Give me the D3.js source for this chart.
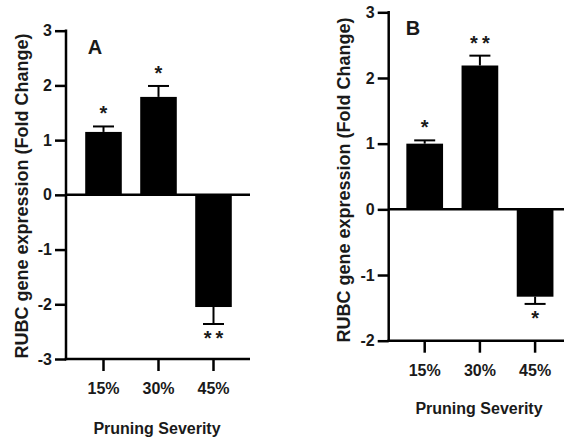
<!DOCTYPE html>
<html>
<head>
<meta charset="utf-8">
<script src="https://cdn.jsdelivr.net/npm/d3@7"></script>
<style>
  body { margin: 0; background: #fff; }
  svg { display: block; }
  text { font-family: "Liberation Sans", Arial, sans-serif; font-weight: bold; fill: #1a1a1a; }
</style>
</head>
<body>
<svg id="chart" width="564" height="438"></svg>
<script>
// ---- data ----
const categories = ["15%", "30%", "45%"];
const valuesA = [1.15, 1.79, -2.05];
const errorsA = [0.10, 0.20, 0.31];
const sigA = ["*", "*", "**"];
const valuesB = [1.00, 2.19, -1.33];
const errorsB = [0.05, 0.15, 0.11];
const sigB = ["*", "**", "*"];
const yTicksA = [-3, -2, -1, 0, 1, 2, 3];
const yTicksB = [-2, -1, 0, 1, 2, 3];
const yTitle = "RUBC gene expression (Fold Change)";
const xTitle = "Pruning Severity";

const svg = d3.select("#chart");

function panel(opts) {
  const { values, errors, sig, yTicks, yDomain, yRange, xRange, axisX, axisEnd, letter, letterPos, yTitlePos, xTitlePos, tickLabelY } = opts;
  const g = svg.append("g");
  const y = d3.scaleLinear().domain(yDomain).range(yRange);
  const x = d3.scaleBand().domain(categories).range(xRange).paddingInner(0.335).paddingOuter(0.1675);
  const data = categories.map((c, i) => ({ c, v: values[i], e: errors[i], s: sig[i] }));

  // bars
  g.selectAll("rect.bar").data(data).join("rect")
    .attr("class", "bar")
    .attr("x", d => x(d.c))
    .attr("width", x.bandwidth())
    .attr("y", d => y(Math.max(0, d.v)))
    .attr("height", d => Math.abs(y(d.v) - y(0)))
    .attr("fill", "#000");

  // error bars
  const capW = 21;
  data.forEach(d => {
    const end = d.v >= 0 ? d.v + d.e : d.v - d.e;
    const cx = x(d.c) + x.bandwidth() / 2;
    g.append("line").attr("x1", cx).attr("x2", cx).attr("y1", y(d.v)).attr("y2", y(end))
      .attr("stroke", "#000").attr("stroke-width", 2);
    g.append("line").attr("x1", cx - capW / 2).attr("x2", cx + capW / 2).attr("y1", y(end)).attr("y2", y(end))
      .attr("stroke", "#000").attr("stroke-width", 2);
    g.append("text")
      .attr("x", cx + (d.s.length > 1 ? 2 : 0))
      .attr("y", d.v >= 0 ? y(end) - 6 : y(end) + 21)
      .attr("text-anchor", "middle")
      .attr("font-size", 20)
      .attr("letter-spacing", d.s.length > 1 ? 4 : 0)
      .text(d.s);
  });

  // zero line
  g.append("line").attr("x1", axisX).attr("x2", axisEnd).attr("y1", y(0)).attr("y2", y(0))
    .attr("stroke", "#000").attr("stroke-width", 2.5);

  // y axis
  const yAxis = d3.axisLeft(y).tickValues(yTicks).tickFormat(d => String(d)).tickSize(11).tickSizeOuter(0).tickPadding(3);
  const ya = g.append("g").attr("transform", `translate(${axisX},0)`).call(yAxis);
  ya.select(".domain").attr("stroke", "#000").attr("stroke-width", 2.5)
    .attr("d", `M0,${yRange[0] + 1.25}V${yRange[1] - 1.25}`);
  ya.selectAll(".tick line").attr("stroke", "#000").attr("stroke-width", 2.5);
  ya.selectAll(".tick text").attr("font-size", 16).attr("font-family", "Liberation Sans, Arial, sans-serif")
    .attr("font-weight", "bold").attr("fill", "#1a1a1a");

  // bottom x axis
  const xAxis = d3.axisBottom(x).tickSize(12).tickSizeOuter(0).tickPadding(4);
  const xa = g.append("g").attr("transform", `translate(0,${yRange[0]})`).call(xAxis);
  xa.select(".domain").attr("stroke", "#000").attr("stroke-width", 2.5)
    .attr("d", `M${axisX - 1.25},0H${axisEnd}`);
  xa.selectAll(".tick line").attr("stroke", "#000").attr("stroke-width", 2.5);
  xa.selectAll(".tick text").attr("font-size", 16).attr("font-family", "Liberation Sans, Arial, sans-serif")
    .attr("font-weight", "bold").attr("fill", "#1a1a1a").attr("y", tickLabelY - yRange[0]).attr("dy", "0.35em");

  // panel letter
  g.append("text").attr("x", letterPos[0]).attr("y", letterPos[1]).attr("font-size", 20)
    .attr("text-anchor", "middle").attr("fill", "#111").text(letter);

  // titles
  g.append("text")
    .attr("transform", `translate(${yTitlePos[0]},${yTitlePos[1]}) rotate(-90)`)
    .attr("text-anchor", "middle").attr("dy", "0.35em").attr("font-size", 18)
    .text(yTitle);
  g.append("text")
    .attr("x", xTitlePos[0]).attr("y", xTitlePos[1])
    .attr("text-anchor", "middle").attr("dy", "0.35em").attr("font-size", 16)
    .text(xTitle);
}

panel({
  values: valuesA, errors: errorsA, sig: sigA, yTicks: yTicksA,
  yDomain: [-3, 3], yRange: [359, 30.7], xRange: [76, 241],
  axisX: 66, axisEnd: 250, letter: "A", letterPos: [95, 54],
  yTitlePos: [22, 196], xTitlePos: [157, 428], tickLabelY: 388
});

panel({
  values: valuesB, errors: errorsB, sig: sigB, yTicks: yTicksB,
  yDomain: [-2, 3], yRange: [340.7, 12.3], xRange: [397.1, 562.7],
  axisX: 388.7, axisEnd: 566, letter: "B", letterPos: [413, 35],
  yTitlePos: [343.7, 180], xTitlePos: [479, 408], tickLabelY: 370
});
</script>
</body>
</html>
